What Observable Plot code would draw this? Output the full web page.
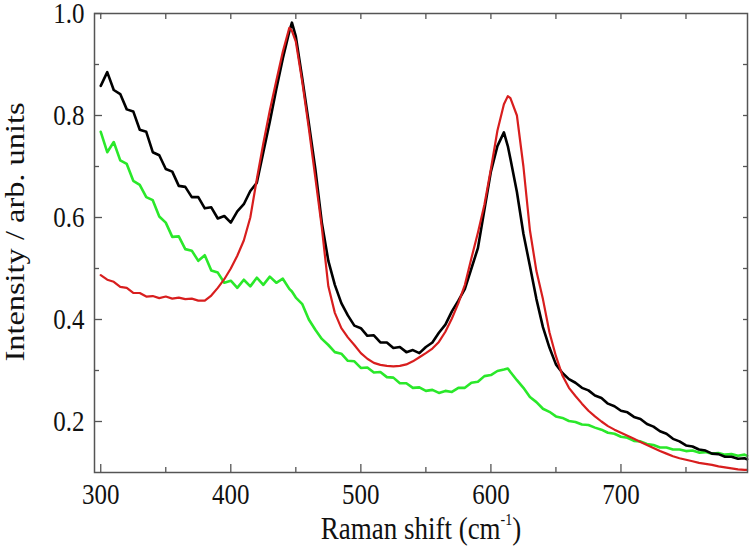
<!DOCTYPE html>
<html>
<head>
<meta charset="utf-8">
<script src="https://cdn.jsdelivr.net/npm/d3@7"></script>
<script src="https://cdn.jsdelivr.net/npm/@observablehq/plot@0.6"></script>
<style>
  html, body { margin: 0; padding: 0; background: #fff; }
</style>
</head>
<body>
<div id="chart"></div>
<script>
// Raman shift (cm^-1)
const shift = [
  300,305,310,315,320,325,330,335,340,345,
  350,355,360,365,370,375,380,385,390,395,
  400,405,410,415,420,425,430,435,440,445,
  447,450,455,460,465,470,475,480,485,490,
  495,500,505,510,515,520,525,530,535,540,
  545,550,555,560,565,570,575,580,585,590,
  595,600,605,610,613,615,620,625,630,635,
  640,645,650,655,660,665,670,675,680,685,
  690,695,700,705,710,715,720,725,730,735,
  740,745,750,755,760,765,770,775,780,785,
  790,795,797
];
const blackSeries = [
  0.858,0.885,0.850,0.842,0.812,0.808,0.772,0.768,0.728,0.722,
  0.695,0.690,0.662,0.660,0.640,0.640,0.618,0.620,0.598,0.603,
  0.590,0.612,0.626,0.652,0.668,0.728,0.788,0.852,0.912,0.965,
  0.982,0.955,0.872,0.785,0.695,0.590,0.515,0.468,0.432,0.408,
  0.388,0.383,0.368,0.369,0.355,0.355,0.344,0.346,0.336,0.340,
  0.334,0.346,0.355,0.374,0.390,0.416,0.437,0.460,0.500,0.540,
  0.615,0.690,0.740,0.767,0.740,0.715,0.650,0.568,0.505,0.440,
  0.385,0.345,0.312,0.295,0.283,0.276,0.266,0.261,0.251,0.246,
  0.235,0.230,0.221,0.218,0.209,0.205,0.195,0.190,0.181,0.176,
  0.166,0.161,0.153,0.151,0.145,0.143,0.137,0.136,0.131,0.131,
  0.127,0.128,0.126
];
const redSeries = [
  0.487,0.478,0.474,0.464,0.462,0.452,0.452,0.445,0.446,0.442,
  0.445,0.441,0.443,0.440,0.441,0.437,0.437,0.447,0.462,0.479,
  0.500,0.525,0.555,0.600,0.675,0.745,0.810,0.868,0.925,0.972,
  0.966,0.945,0.865,0.775,0.678,0.580,0.465,0.413,0.383,0.365,
  0.350,0.334,0.323,0.315,0.311,0.309,0.308,0.309,0.312,0.318,
  0.326,0.334,0.343,0.356,0.376,0.402,0.432,0.468,0.520,0.570,
  0.625,0.695,0.770,0.822,0.838,0.834,0.800,0.700,0.575,0.495,
  0.440,0.375,0.328,0.290,0.266,0.250,0.235,0.221,0.210,0.200,
  0.191,0.184,0.178,0.172,0.166,0.160,0.154,0.148,0.142,0.137,
  0.132,0.128,0.125,0.122,0.119,0.117,0.115,0.112,0.110,0.108,
  0.106,0.105,0.105
];
const greenSeries = [
  0.768,0.728,0.748,0.712,0.705,0.672,0.664,0.640,0.634,0.602,
  0.590,0.562,0.563,0.538,0.535,0.515,0.526,0.496,0.492,0.472,
  0.476,0.462,0.478,0.465,0.482,0.468,0.484,0.472,0.480,0.460,
  0.455,0.443,0.430,0.400,0.380,0.362,0.350,0.336,0.333,0.319,
  0.318,0.305,0.306,0.296,0.297,0.287,0.286,0.275,0.275,0.266,
  0.267,0.260,0.262,0.256,0.260,0.258,0.266,0.266,0.276,0.278,
  0.289,0.291,0.299,0.302,0.304,0.297,0.281,0.266,0.248,0.238,
  0.225,0.219,0.210,0.207,0.201,0.199,0.194,0.193,0.188,0.184,
  0.178,0.176,0.170,0.168,0.162,0.161,0.156,0.154,0.149,0.149,
  0.145,0.145,0.142,0.143,0.139,0.140,0.137,0.138,0.135,0.136,
  0.133,0.135,0.133
];
const xMajorTicks = [300, 400, 500, 600, 700];
const xMinorTicks = [350, 450, 550, 650, 750];
const xTopTicks = [300, 350, 400, 450, 500, 550, 600, 650, 700, 750];
const yMajorTicks = [0.2, 0.4, 0.6, 0.8, 1.0];
const yMinorTicks = [0.3, 0.5, 0.7, 0.9];
const yRightTicks = [0.2, 0.3, 0.4, 0.5, 0.6, 0.7, 0.8, 0.9];
const xTitle = "Raman shift (cm";
const xTitleSup = "-1";
const yTitle = "Intensity / arb. units";

const data = shift.map((x, i) => ({x, black: blackSeries[i], red: redSeries[i], green: greenSeries[i]}));

const axisColor = "#555";
const textColor = "#111";
const noText = () => "";

const plot = Plot.plot({
  width: 750,
  height: 549,
  marginLeft: 94,
  marginRight: 3,
  marginTop: 13,
  marginBottom: 77,
  x: {domain: [295.2, 797.3]},
  y: {domain: [0.1, 1.0]},
  style: {fontFamily: "'Liberation Serif', 'Times New Roman', serif", fontSize: "25px", background: "#fff", color: textColor},
  marks: [
    Plot.lineY(data, {x: "x", y: "green", stroke: "#2ae82a", strokeWidth: 2.6}),
    Plot.lineY(data, {x: "x", y: "black", stroke: "#000", strokeWidth: 2.6}),
    Plot.lineY(data, {x: "x", y: "red", stroke: "#d81e1e", strokeWidth: 2.2}),
    Plot.frame({stroke: axisColor, strokeWidth: 1.5}),
    Plot.axisX({ticks: xMajorTicks, tickSize: -8, tickPadding: 19, label: null, stroke: axisColor, fill: textColor, strokeWidth: 1.3, tickFormat: d3.format("d")}),
    Plot.axisX({ticks: xMinorTicks, tickSize: -5, label: null, stroke: axisColor, strokeWidth: 1.3, tickFormat: noText}),
    Plot.axisX({ticks: xTopTicks, anchor: "top", tickSize: -5, label: null, stroke: axisColor, strokeWidth: 1.3, tickFormat: noText}),
    Plot.axisY({ticks: yMajorTicks, tickSize: -8, tickPadding: 18, label: null, stroke: axisColor, fill: textColor, strokeWidth: 1.3, tickFormat: d3.format(".1f")}),
    Plot.axisY({ticks: yMinorTicks, tickSize: -5, label: null, stroke: axisColor, strokeWidth: 1.3, tickFormat: noText}),
    Plot.axisY({ticks: yRightTicks, anchor: "right", tickSize: -5, label: null, stroke: axisColor, strokeWidth: 1.3, tickFormat: noText})
  ]
});

// slight vertical stretch of tick labels, as in the reference
plot.querySelectorAll('g[aria-label$="tick label"] text').forEach(t => {
  const tr = t.getAttribute("transform");
  if (tr) t.setAttribute("transform", tr + " scale(1,1.15)");
});

const svg = d3.select(plot);
svg.append("text")
  .attr("transform", "translate(24,232) rotate(-90) scale(1.2,1)")
  .attr("text-anchor", "middle")
  .attr("font-family", "'Liberation Serif', serif")
  .attr("font-size", 27)
  .attr("fill", textColor)
  .text(yTitle);

const xt = svg.append("text")
  .attr("transform", "translate(421,539) scale(1,1.15)")
  .attr("text-anchor", "middle")
  .attr("font-family", "'Liberation Serif', serif")
  .attr("font-size", 27)
  .attr("fill", textColor);
xt.append("tspan").text(xTitle);
xt.append("tspan").attr("font-size", 14).attr("dy", -12).text(xTitleSup);
xt.append("tspan").attr("dy", 12).text(")");

document.getElementById("chart").appendChild(plot);
</script>
</body>
</html>
